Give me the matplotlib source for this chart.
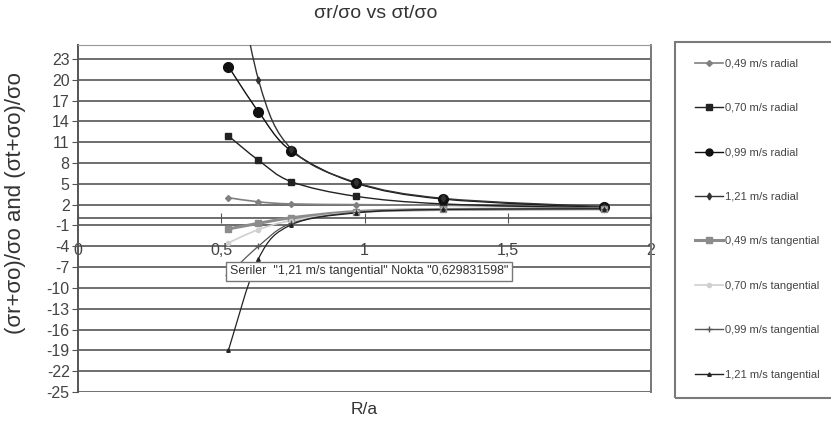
import matplotlib
matplotlib.use("Agg")
import matplotlib.pyplot as plt
from matplotlib.path import Path
from matplotlib.patches import PathPatch, Rectangle
from matplotlib.lines import Line2D

plt.rcParams['font.family'] = ['Liberation Sans', 'DejaVu Sans']

# ---- data ----
r_over_a = [0.525, 0.629831598, 0.745, 0.97, 1.275, 1.835]
radial_049 = [3.0, 2.4, 2.1, 2.0, 1.9, 1.6]
radial_070 = [11.9, 8.4, 5.3, 3.2, 2.1, 1.5]
radial_099 = [21.9, 15.4, 9.7, 5.1, 2.8, 1.6]
radial_121 = [42.0, 20.0, 10.0, 5.2, 2.9, 1.7]
tang_049 = [-1.5, -0.7, 0.1, 1.0, 1.3, 1.4]
tang_070 = [-3.5, -1.6, -0.3, 0.9, 1.3, 1.4]
tang_099 = [-8.1, -4.0, -0.7, 0.9, 1.3, 1.4]
tang_121 = [-19.0, -5.8, -0.9, 0.8, 1.3, 1.4]

labels = ["0,49 m/s radial", "0,70 m/s radial", "0,99 m/s radial", "1,21 m/s radial",
          "0,49 m/s tangential", "0,70 m/s tangential", "0,99 m/s tangential", "1,21 m/s tangential"]
series = [radial_049, radial_070, radial_099, radial_121, tang_049, tang_070, tang_099, tang_121]

x_ticks = [0, 0.5, 1, 1.5, 2]
x_tick_labels = ["0", "0,5", "1", "1,5", "2"]
y_ticks = list(range(-25, 24, 3))

styles = [
    dict(color="#808080", lw=1.2, marker="D", ms=3),
    dict(color="#222222", lw=1.0, marker="s", ms=5),
    dict(color="#111111", lw=1.0, marker="o", ms=7),
    dict(color="#333333", lw=1.0, marker="d", ms=3.5),
    dict(color="#8c8c8c", lw=2.2, marker="s", ms=5),
    dict(color="#cfcfcf", lw=1.2, marker="o", ms=3),
    dict(color="#555555", lw=0.9, marker="+", ms=4),
    dict(color="#222222", lw=0.9, marker="^", ms=2.5),
]


def smooth_path(xs, ys):
    pts = list(zip(xs, ys))
    n = len(pts)
    verts = [pts[0]]
    codes = [Path.MOVETO]
    for i in range(n - 1):
        p0 = pts[i - 1] if i > 0 else pts[i]
        p1 = pts[i]
        p2 = pts[i + 1]
        p3 = pts[i + 2] if i + 2 < n else pts[i + 1]
        c1 = (p1[0] + (p2[0] - p0[0]) / 6, p1[1] + (p2[1] - p0[1]) / 6)
        c2 = (p2[0] - (p3[0] - p1[0]) / 6, p2[1] - (p3[1] - p1[1]) / 6)
        verts += [c1, c2, p2]
        codes += [Path.CURVE4] * 3
    return Path(verts, codes)


fig = plt.figure(figsize=(8.31, 4.23), dpi=100)
ax = fig.add_axes([78 / 831, 1 - 392 / 423, (651 - 78) / 831, (392 - 45) / 423])

ax.set_xlim(0, 2)
ax.set_ylim(-25, 25)

for yt in y_ticks:
    ax.axhline(yt, color="#6e6e6e", lw=1.4, zorder=1)

for vals, st in zip(series, styles):
    patch = PathPatch(smooth_path(r_over_a, vals), fill=False, edgecolor=st["color"],
                      lw=st["lw"], zorder=3)
    ax.add_patch(patch)
    ax.plot(r_over_a, vals, linestyle="none", marker=st["marker"], ms=st["ms"],
            color=st["color"], mec=st["color"], zorder=4, clip_on=True)

ax.set_yticks(y_ticks)
ax.set_yticklabels([str(v) for v in y_ticks])
ax.set_xticks(x_ticks)
ax.set_xticklabels(x_tick_labels)

ax.spines["bottom"].set_position(("data", 0))
ax.spines["bottom"].set_color("#555555")
ax.spines["bottom"].set_linewidth(1.2)
ax.spines["left"].set_color("#555555")
ax.spines["left"].set_linewidth(1.4)
ax.spines["top"].set_color("#999999")
ax.spines["right"].set_color("#777777")
ax.spines["right"].set_linewidth(1.4)

ax.tick_params(axis="y", labelsize=11.5, labelcolor="#444444", color="#555555", length=4, pad=2)
ax.tick_params(axis="x", labelsize=11.5, labelcolor="#444444", color="#555555",
               direction="inout", length=7, pad=14)

ax.text(0.53, -7.6, "Seriler  \"1,21 m/s tangential\" Nokta \"0,629831598\"", fontsize=8.9,
        color="#333333", va="center", ha="left", zorder=6,
        bbox=dict(boxstyle="square,pad=0.3", fc="white", ec="#777777", lw=1.0))

fig.text(376 / 831, 1 - 13 / 423, "σr/σo vs σt/σo", ha="center", va="center", fontsize=14,
         color="#333333")
fig.text(16 / 831, 1 - 203 / 423, "(σr+σo)/σo and (σt+σo)/σo", ha="center", va="center",
         rotation=90, fontsize=16, color="#333333")
fig.text(364 / 831, 1 - 409 / 423, "R/a", ha="center", va="center", fontsize=12.5,
         color="#333333")

# legend frame
fig.patches.append(Rectangle((675 / 831, 1 - 398 / 423), 170 / 831, 356 / 423,
                             transform=fig.transFigure, fill=False, ec="#7a7a7a", lw=1.5))

handles = [Line2D([], [], color=st["color"], lw=max(st["lw"], 1.0), marker=st["marker"],
                  ms=min(st["ms"], 5)) for st in styles]
leg = fig.legend(handles, labels, loc="upper left", bbox_to_anchor=(689 / 831, 1 - 53 / 423),
                 frameon=False, fontsize=8, handlelength=2.6, handletextpad=0.15,
                 labelspacing=3.1, borderpad=0)
for t in leg.get_texts():
    t.set_color("#444444")

fig.savefig("out.png", dpi=100, facecolor="white")
